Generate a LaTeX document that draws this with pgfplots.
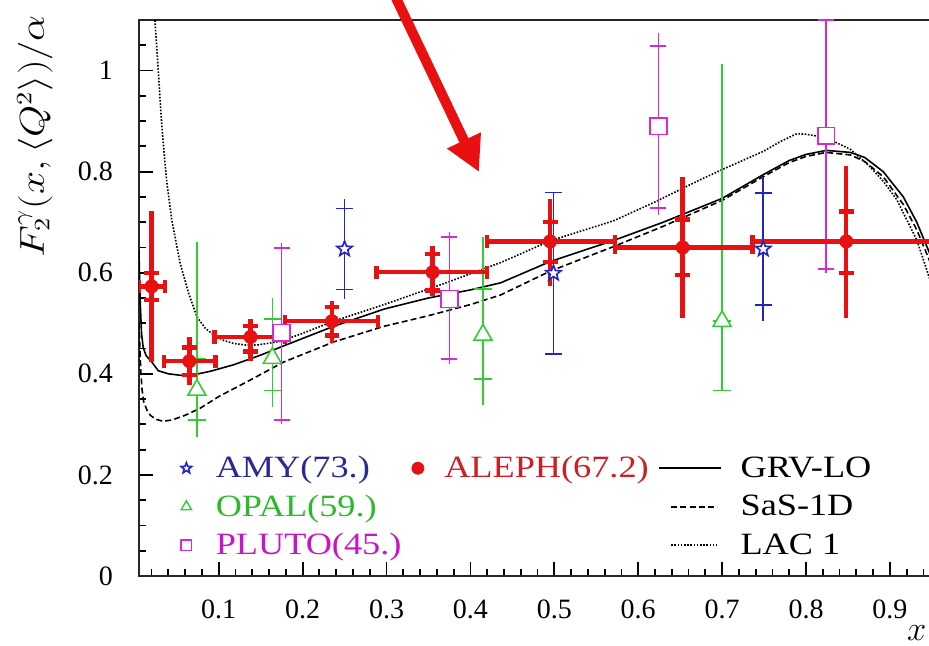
\documentclass[border=0pt]{standalone}
\usepackage{fontspec}
\setmainfont{Liberation Serif}
\newfontfamily\legfont[FakeStretch=1.17]{Liberation Serif}
\usepackage{graphicx}
\usepackage{pgfplots}
\pgfplotsset{compat=1.18}
\usetikzlibrary{arrows.meta}
\definecolor{aleph}{RGB}{232,16,16}
\definecolor{amy}{RGB}{35,35,200}
\definecolor{amytext}{RGB}{40,40,150}
\definecolor{opal}{RGB}{50,205,50}
\definecolor{opaltext}{RGB}{45,185,45}
\definecolor{pluto}{RGB}{215,40,215}
\definecolor{plutotext}{RGB}{200,20,200}
\definecolor{alephtext}{RGB}{205,30,40}
\pgfdeclareplotmark{ostar}{%
  \pgfpathmoveto{\pgfpointpolar{90}{\pgfplotmarksize}}%
  \pgfpathlineto{\pgfpointpolar{126}{0.42\pgfplotmarksize}}%
  \pgfpathlineto{\pgfpointpolar{162}{\pgfplotmarksize}}%
  \pgfpathlineto{\pgfpointpolar{198}{0.42\pgfplotmarksize}}%
  \pgfpathlineto{\pgfpointpolar{234}{\pgfplotmarksize}}%
  \pgfpathlineto{\pgfpointpolar{270}{0.42\pgfplotmarksize}}%
  \pgfpathlineto{\pgfpointpolar{306}{\pgfplotmarksize}}%
  \pgfpathlineto{\pgfpointpolar{342}{0.42\pgfplotmarksize}}%
  \pgfpathlineto{\pgfpointpolar{18}{\pgfplotmarksize}}%
  \pgfpathlineto{\pgfpointpolar{54}{0.42\pgfplotmarksize}}%
  \pgfpathclose\pgfusepathqfillstroke}
\begin{document}
\begin{tikzpicture}
\useasboundingbox (-69.5pt,-35pt) rectangle (395pt,288pt);
\clip (-69.5pt,-35pt) rectangle (395pt,288pt);
\begin{axis}[
  at={(0pt,0pt)}, anchor=south west,
  scale only axis, width=417.4pt, height=278pt,
  xmin=0.005, xmax=1.0, ymin=0, ymax=1.1,
  axis line style={line width=1pt, black!85},
  xtick={0.1,0.2,0.3,0.4,0.5,0.6,0.7,0.8,0.9},
  minor xtick={0.02,0.04,0.06,0.08,0.12,0.14,0.16,0.18,0.22,0.24,0.26,0.28,0.32,0.34,0.36,0.38,0.42,0.44,0.46,0.48,0.52,0.54,0.56,0.58,0.62,0.64,0.66,0.68,0.72,0.74,0.76,0.78,0.82,0.84,0.86,0.88,0.92,0.94,0.96,0.98},
  ytick={0,0.2,0.4,0.6,0.8,1},
  minor ytick={0.05,0.1,0.15,0.25,0.3,0.35,0.45,0.5,0.55,0.65,0.7,0.75,0.85,0.9,0.95,1.05},
  xtick pos=left, ytick pos=left,
  tick align=inside,
  major tick length=7pt, minor tick length=3.5pt,
  tick style={line width=0.9pt, black},
  /pgf/number format/assume math mode=true,
  tick label style={font=\fontsize{14}{16}\selectfont},
  yticklabel style={xshift=-9.5pt},
  xticklabel style={yshift=-8.5pt},
  xlabel={$x$},
  xlabel style={at={(axis description cs:0.9437,0)}, anchor=north east, inner sep=0pt, yshift=-24.5pt, font=\fontsize{17}{20}\selectfont},
  ylabel={\scalebox{1.2}[1]{$F_2^{\gamma}(x,\langle Q^2\rangle)/\alpha$}},
  ylabel style={at={(axis description cs:-0.1246,0.7905)}, anchor=center, font=\fontsize{16}{19}\selectfont},
  legend columns=3,
  legend cell align=left,
  legend style={draw=none, fill=none, at={(axis description cs:0.0395,0.2158)}, anchor=north west, column sep=0pt, row sep=7pt, inner sep=0pt, outer sep=0pt, nodes={inner sep=0pt}, font=\legfont\fontsize{15.5}{18}\selectfont},
]
% legend
\addlegendimage{legend image code/.code={\path[draw opacity=0, fill opacity=0] (0pt,-4pt) rectangle (21.5pt,4pt); \draw[amy, fill=white, line width=0.8pt, mark=ostar, mark size=2.8pt] plot coordinates {(7pt,0pt)};}}
\addlegendentry{\textcolor{amytext}{AMY(73.)}}
\addlegendimage{legend image code/.code={\path[draw opacity=0, fill opacity=0] (0pt,-4pt) rectangle (21pt,4pt); \draw[aleph, fill=aleph, mark=*, mark size=3pt] plot coordinates {(8pt,0pt)};}}
\addlegendentry{\textcolor{alephtext}{ALEPH(67.2)}}
\addlegendimage{legend image code/.code={\path[draw opacity=0, fill opacity=0] (0pt,-4pt) rectangle (45.5pt,4pt); \draw[black, line width=0.8pt] (5pt,0pt) -- (36pt,0pt);}}
\addlegendentry{GRV-LO}
\addlegendimage{legend image code/.code={\path[draw opacity=0, fill opacity=0] (0pt,-4pt) rectangle (21.5pt,4pt); \draw[opal, fill=white, line width=0.7pt, mark=triangle*, mark size=3pt] plot coordinates {(7pt,0pt)};}}
\addlegendentry{\textcolor{opaltext}{OPAL(59.)}}
\addlegendimage{empty legend}
\addlegendentry{}
\addlegendimage{legend image code/.code={\path[draw opacity=0, fill opacity=0] (0pt,-4pt) rectangle (45.5pt,4pt); \draw[black, line width=0.8pt, dash pattern=on 3pt off 1.6pt] (11pt,0pt) -- (34pt,0pt);}}
\addlegendentry{SaS-1D}
\addlegendimage{legend image code/.code={\path[draw opacity=0, fill opacity=0] (0pt,-4pt) rectangle (21.5pt,4pt); \draw[pluto, fill=white, line width=0.7pt, mark=square*, mark size=2.6pt] plot coordinates {(7pt,0pt)};}}
\addlegendentry{\textcolor{plutotext}{PLUTO(45.)}}
\addlegendimage{empty legend}
\addlegendentry{}
\addlegendimage{legend image code/.code={\path[draw opacity=0, fill opacity=0] (0pt,-4pt) rectangle (45.5pt,4pt); \draw[black, line width=0.8pt, dash pattern=on 0.8pt off 0.8pt] (11pt,0pt) -- (34pt,0pt);}}
\addlegendentry{LAC 1}

% curves
\addplot[forget plot, black, line width=0.8pt] coordinates {
(0.005,0.645) (0.0055,0.60) (0.0065,0.54) (0.008,0.48) (0.010,0.452) (0.0135,0.436) (0.0185,0.427) (0.028,0.406) (0.04,0.400) (0.055,0.397) (0.07,0.398) (0.09,0.405) (0.118,0.418) (0.15,0.437) (0.177,0.455) (0.237,0.494) (0.297,0.528) (0.35,0.550) (0.40,0.566) (0.436,0.580) (0.495,0.622) (0.571,0.664) (0.63,0.700) (0.70,0.747) (0.749,0.794) (0.78,0.822) (0.80,0.834) (0.824,0.842) (0.853,0.838) (0.87,0.828) (0.892,0.800) (0.916,0.750) (0.932,0.700) (0.947,0.640) (0.97,0.52) (0.99,0.38)
};
\addplot[forget plot, black, line width=0.8pt, dash pattern=on 3pt off 1.6pt] coordinates {
(0.005,0.50) (0.007,0.41) (0.0086,0.37) (0.0105,0.345) (0.0145,0.328) (0.0185,0.318) (0.025,0.310) (0.034,0.306) (0.045,0.309) (0.06,0.318) (0.078,0.332) (0.10,0.355) (0.138,0.388) (0.177,0.423) (0.237,0.463) (0.297,0.494) (0.35,0.515) (0.40,0.537) (0.436,0.556) (0.495,0.603) (0.571,0.652) (0.63,0.692) (0.70,0.743) (0.749,0.790) (0.78,0.818) (0.80,0.830) (0.824,0.838) (0.853,0.833) (0.87,0.820) (0.892,0.790) (0.916,0.735) (0.932,0.685) (0.947,0.625) (0.97,0.50) (0.99,0.36)
};
\addplot[forget plot, black, line width=0.8pt, dash pattern=on 0.8pt off 0.8pt] coordinates {
(0.0215,1.15) (0.024,1.10) (0.026,1.05) (0.028,0.999) (0.030,0.945) (0.032,0.896) (0.035,0.835) (0.038,0.781) (0.044,0.705) (0.054,0.619) (0.064,0.560) (0.074,0.513) (0.084,0.490) (0.094,0.477) (0.106,0.466) (0.118,0.460) (0.132,0.457) (0.146,0.457) (0.173,0.464) (0.20,0.480) (0.237,0.504) (0.297,0.537) (0.316,0.548) (0.376,0.583) (0.436,0.620) (0.495,0.663) (0.571,0.703) (0.62,0.740) (0.674,0.784) (0.70,0.804) (0.749,0.840) (0.77,0.860) (0.789,0.875) (0.80,0.874) (0.824,0.867) (0.853,0.844) (0.875,0.812) (0.892,0.781) (0.908,0.745) (0.932,0.665) (0.947,0.590) (0.96,0.50) (0.98,0.36)
};

% AMY
\addplot[forget plot, only marks, mark=none, amy, error bars/.cd, y dir=both, y explicit, error mark=none, error bar style={line width=0.8pt, amy}] coordinates {
(0.250,0.647) +- (0,0.099)
(0.499,0.599) +- (0,0.160)
(0.749,0.647) +- (0,0.143)
};
\addplot[forget plot, only marks, mark=none, amy, error bars/.cd, y dir=both, y explicit, error bar style={line width=0.8pt, amy}, error mark options={rotate=90, mark size=4.2pt, line width=0.8pt, amy}] coordinates {
(0.250,0.647) +- (0,0.080)
(0.499,0.599) +- (0,0.160)
(0.749,0.647) +- (0,0.111)
};
% OPAL
\addplot[forget plot, only marks, mark=none, opal, error bars/.cd, y dir=both, y explicit, error mark=none, error bar style={line width=0.8pt, opal}] coordinates {
(0.074,0.368) += (0,0.293) -= (0,0.093)
(0.164,0.431) += (0,0.119) -= (0,0.096)
(0.415,0.477) += (0,0.194) -= (0,0.138)
(0.700,0.504) += (0,0.508) -= (0,0.137)
};
\addplot[forget plot, only marks, mark=none, opal, error bars/.cd, y dir=both, y explicit, error bar style={line width=0.8pt, opal}, error mark options={rotate=90, mark size=4.4pt, line width=0.8pt, opal}] coordinates {
(0.074,0.368) += (0,0.062) -= (0,0.059)
(0.164,0.431) += (0,0.077) -= (0,0.064)
(0.415,0.477) += (0,0.091) -= (0,0.087)
(0.700,0.504) += (0,0.0) -= (0,0.137)
};
% PLUTO
\addplot[forget plot, only marks, mark=none, pluto, error bars/.cd, y dir=both, y explicit, error mark=none, error bar style={line width=0.8pt, pluto}] coordinates {
(0.175,0.481) += (0,0.178) -= (0,0.180)
(0.375,0.548) += (0,0.132) -= (0,0.128)
(0.624,0.890) += (0,0.185) -= (0,0.175)
(0.824,0.871) += (0,0.300) -= (0,0.271)
};
\addplot[forget plot, only marks, mark=none, pluto, error bars/.cd, y dir=both, y explicit, error bar style={line width=0.8pt, pluto}, error mark options={rotate=90, mark size=4pt, line width=0.8pt, pluto}] coordinates {
(0.175,0.481) += (0,0.168) -= (0,0.172)
(0.375,0.548) += (0,0.123) -= (0,0.119)
(0.624,0.890) += (0,0.158) -= (0,0.162)
(0.824,0.871) += (0,0.229) -= (0,0.264)
};
% ALEPH
\addplot[forget plot, only marks, mark=none, aleph, error bars/.cd, x dir=both, x explicit, error bar style={line width=2.2pt, aleph}, error mark options={rotate=90, mark size=3.3pt, line width=2.2pt, aleph}] coordinates {
(0.020,0.573) += (0.016,0) -= (0.015,0)
(0.065,0.425) += (0.031,0) -= (0.030,0)
(0.138,0.473) += (0.041,0) -= (0.043,0)
(0.235,0.504) += (0.055,0) -= (0.056,0)
(0.355,0.601) += (0.065,0) -= (0.067,0)
(0.495,0.662) += (0.077,0) -= (0.075,0)
(0.653,0.650) += (0.083,0) -= (0.081,0)
(0.848,0.662) += (0.152,0) -= (0.112,0)
};
\addplot[forget plot, only marks, mark=none, aleph, error bars/.cd, y dir=both, y explicit, error mark=none, error bar style={line width=2.2pt, aleph}] coordinates {
(0.020,0.573) += (0,0.149) -= (0,0.149)
(0.065,0.425) += (0,0.047) -= (0,0.047)
(0.138,0.473) += (0,0.035) -= (0,0.048)
(0.235,0.504) += (0,0.041) -= (0,0.043)
(0.355,0.601) += (0,0.052) -= (0,0.048)
(0.495,0.662) += (0,0.084) -= (0,0.089)
(0.653,0.650) += (0,0.140) -= (0,0.140)
(0.848,0.662) += (0,0.150) -= (0,0.152)
};
\addplot[forget plot, only marks, mark=none, aleph, error bars/.cd, y dir=both, y explicit, error bar style={line width=2.2pt, aleph}, error mark options={rotate=90, mark size=3.7pt, line width=2.2pt, aleph}] coordinates {
(0.020,0.573) += (0,0.027) -= (0,0.027)
(0.065,0.425) += (0,0.027) -= (0,0.027)
(0.138,0.473) += (0,0.022) -= (0,0.029)
(0.235,0.504) += (0,0.028) -= (0,0.028)
(0.355,0.601) += (0,0.036) -= (0,0.036)
(0.495,0.662) += (0,0.038) -= (0,0.041)
(0.653,0.650) += (0,0.055) -= (0,0.055)
(0.848,0.662) += (0,0.059) -= (0,0.062)
};
% markers
\addplot[forget plot, only marks, mark=ostar, mark size=4pt, draw=amy, fill=white, line width=0.8pt] coordinates {(0.250,0.647) (0.499,0.599) (0.749,0.647)};
\addplot[forget plot, only marks, mark=triangle*, mark size=5.2pt, draw=opal, fill=white, line width=0.8pt] coordinates {(0.074,0.368) (0.164,0.431) (0.415,0.477) (0.700,0.504)};
\addplot[forget plot, only marks, mark=square*, mark size=4.2pt, draw=pluto, fill=white, line width=0.8pt] coordinates {(0.175,0.481) (0.375,0.548) (0.624,0.890) (0.824,0.871)};
\addplot[forget plot, only marks, mark=*, mark size=3.3pt, draw=aleph, fill=aleph] coordinates {(0.020,0.573) (0.065,0.425) (0.138,0.473) (0.235,0.504) (0.355,0.601) (0.495,0.662) (0.653,0.650) (0.848,0.662)};
\end{axis}
\draw[aleph, line width=5pt, -{Triangle[length=17.5pt,width=17.5pt]}] (124.2pt,298pt) -- (170pt,202pt);
\end{tikzpicture}
\end{document}
